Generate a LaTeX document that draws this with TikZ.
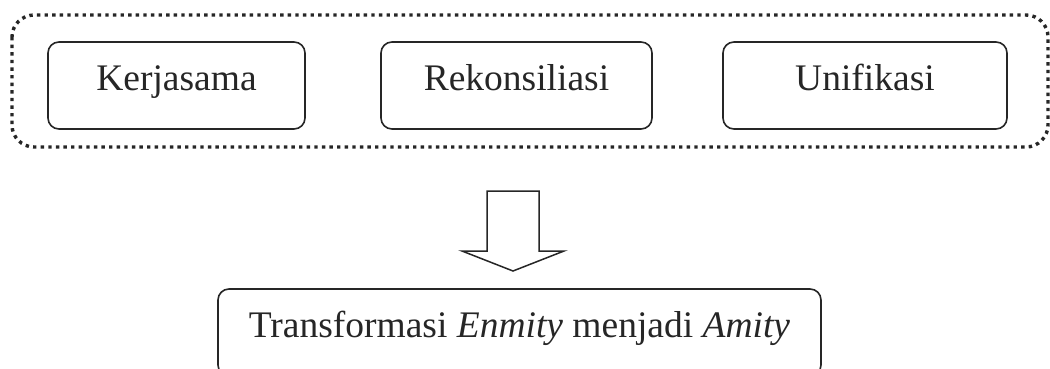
\documentclass[tikz,border=0pt]{standalone}
\usepackage{fontspec}
\setmainfont{Liberation Serif}
\definecolor{ink}{HTML}{262626}
\begin{document}
\begin{tikzpicture}[x=1pt,y=-1pt,
  box/.style={draw=ink, line width=1.6pt, rounded corners=11pt, inner sep=0pt,
    text height=48pt, text depth=39pt, text=ink,
    font=\fontsize{37.5}{44}\selectfont},
  groupbox/.style={draw=ink, line width=3.4pt, dash pattern=on 3.4pt off 4.2pt, rounded corners=22pt},
  bigarrow/.style={draw=ink, line width=1.5pt, fill=white}
]
\useasboundingbox (0,0) rectangle (1050,368);
\clip (0,0) rectangle (1050,368);
\draw[groupbox] (12,15) rectangle (1048,147);
\node[box, minimum width=257pt] (k) at (176.5,85.5) {Kerjasama};
\node[box, minimum width=271pt] (r) at (516.5,85.5) {Rekonsiliasi};
\node[box, minimum width=284pt] (u) at (865,85.5) {Unifikasi};
\node[box, minimum width=603pt] (t) at (519.5,332.5) {Transformasi \textit{Enmity} menjadi \textit{Amity}};
\draw[bigarrow] (487,191) -- (539,191) -- (539,251) -- (564,251) -- (513,271) -- (462,251) -- (487,251) -- cycle;
\end{tikzpicture}
\end{document}
